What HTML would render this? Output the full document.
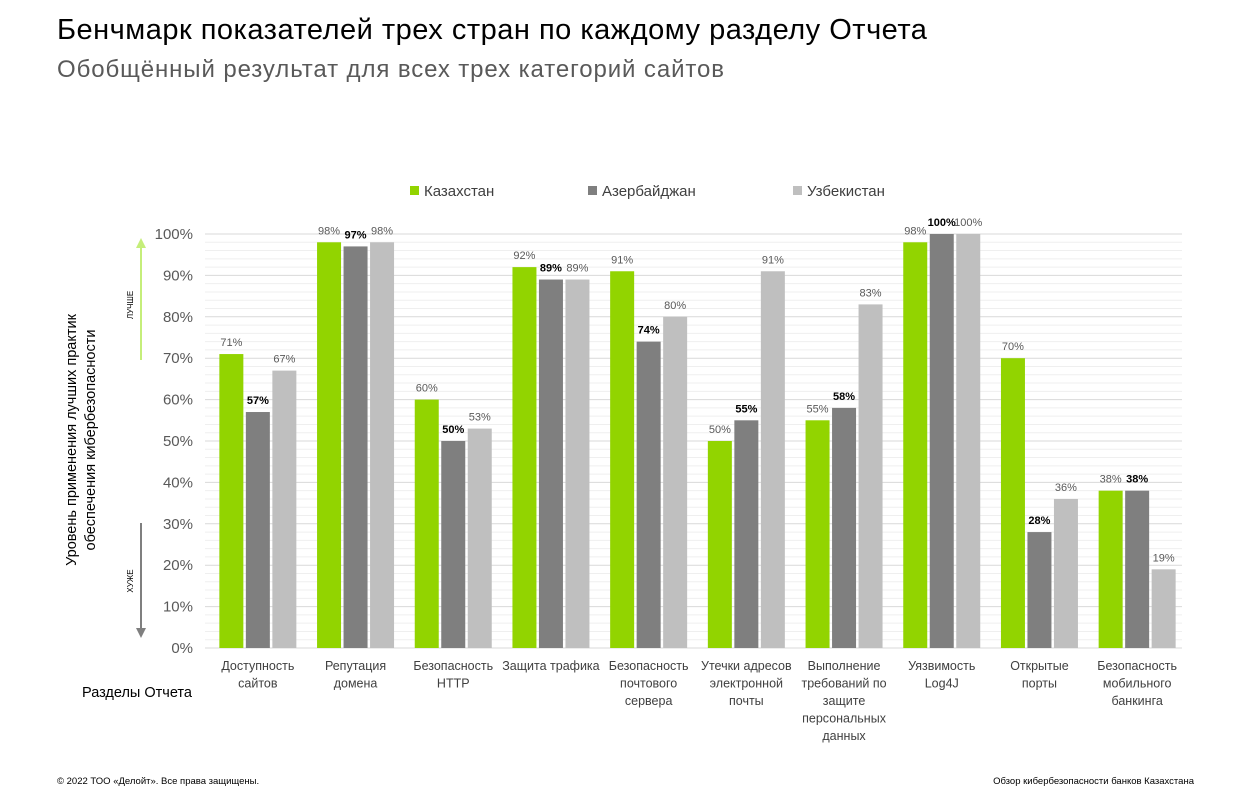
<!DOCTYPE html>
<html><head><meta charset="utf-8">
<style>
body{margin:0;width:1250px;height:794px;background:#fff;font-family:"Liberation Sans","DejaVu Sans",sans-serif;overflow:hidden;position:relative}
.t{position:absolute;white-space:nowrap}
</style></head><body>
<div class="t" style="left:57px;top:14px;font-size:29px;letter-spacing:0.5px;color:#000">Бенчмарк показателей трех стран по каждому разделу Отчета</div>
<div class="t" style="left:57px;top:56px;font-size:24px;letter-spacing:0.9px;color:#595959">Обобщённый результат для всех трех категорий сайтов</div>
<div class="t" style="left:57px;top:776px;font-size:9.5px;color:#000">© 2022 ТОО «Делойт». Все права защищены.</div>
<div class="t" style="right:56px;top:776px;font-size:9.5px;color:#000">Обзор кибербезопасности банков Казахстана</div>
<svg id="chart" width="1250" height="794" style="position:absolute;left:0;top:0"></svg>
<script>
const categories=[["Доступность","сайтов"],["Репутация","домена"],["Безопасность","HTTP"],["Защита трафика"],["Безопасность","почтового","сервера"],["Утечки адресов","электронной","почты"],["Выполнение","требований по","защите","персональных","данных"],["Уязвимость","Log4J"],["Открытые","порты"],["Безопасность","мобильного","банкинга"]];
const kazakhstan=[71,98,60,92,91,50,55,98,70,38];
const azerbaijan=[57,97,50,89,74,55,58,100,28,38];
const uzbekistan=[67,98,53,89,80,91,83,100,36,19];
const seriesNames=["Казахстан","Азербайджан","Узбекистан"];
const yTicks=[0,10,20,30,40,50,60,70,80,90,100];
const colors=["#92d400","#7f7f7f","#bfbfbf"];
const NS="http://www.w3.org/2000/svg";
const svg=document.getElementById('chart');
function mk(tag,attrs,parent){const e=document.createElementNS(NS,tag);for(const k in attrs)e.setAttribute(k,attrs[k]);(parent||svg).appendChild(e);return e;}
const x0=205,x1=1182,yBase=648,yTop=234;
function y(v){return yBase-(yBase-yTop)*v/100;}
const step=(x1-x0)/categories.length;
function cx(i){return x0+step*(i+0.5)+4;}
for(let v=0;v<=100;v+=2){const l=mk('line',{x1:x0,x2:x1,y1:y(v),y2:y(v),stroke:v%10==0?'#d9d9d9':'#efefef','stroke-width':1});

}
yTicks.forEach(v=>{const t=mk('text',{x:193,y:y(v)+5,'text-anchor':'end','font-size':15,fill:'#595959'});t.textContent=v+'%';

});
const all=[kazakhstan,azerbaijan,uzbekistan];
const bw=24,gap=2.5;
categories.forEach((c,i)=>{
 all.forEach((s,k)=>{
  const bx=cx(i)+(k-1)*(bw+gap)-bw/2;
  const r=mk('rect',{x:bx,y:y(s[i]),width:bw,height:yBase-y(s[i]),fill:colors[k]});
  
  
  const t=mk('text',{x:bx+bw/2,y:y(s[i])-8,'text-anchor':'middle','font-size':11,fill:k==1?'#000':'#595959','font-weight':k==1?'bold':'normal'});
  t.textContent=s[i]+'%';
  
  
 });
 c.forEach((ln,j)=>{const t=mk('text',{x:cx(i),y:670+j*17.5,'text-anchor':'middle','font-size':12.5,fill:'#404040'});t.textContent=ln;
  
  });
});
const lx=[410,588,793];
seriesNames.forEach((n,k)=>{
 const r=mk('rect',{x:lx[k],y:186,width:9,height:9,fill:colors[k]});
 
 
 const t=mk('text',{x:lx[k]+14,y:196,'font-size':15,fill:'#404040'});t.textContent=n;
 
 
});
const at=mk('text',{transform:'translate(76,440) rotate(-90)','text-anchor':'middle','font-size':14.5,fill:'#000'});


const s1=mk('tspan',{x:0,dy:0},at);s1.textContent='Уровень применения лучших практик';
const s2=mk('tspan',{x:0,dy:19},at);s2.textContent='обеспечения кибербезопасности';
const a1=mk('line',{x1:141,x2:141,y1:360,y2:246,stroke:'#c5ee7a','stroke-width':2});

const h1=mk('polygon',{points:'136,248 146,248 141,238',fill:'#c5ee7a'});

const a2=mk('line',{x1:141,x2:141,y1:523,y2:630,stroke:'#7f7f7f','stroke-width':2});

const h2=mk('polygon',{points:'136,628 146,628 141,638',fill:'#7f7f7f'});

const b=mk('text',{transform:'translate(133,305) rotate(-90)','text-anchor':'middle','font-size':8,fill:'#000'});b.textContent='ЛУЧШЕ';

const w=mk('text',{transform:'translate(133,581) rotate(-90)','text-anchor':'middle','font-size':8,fill:'#000'});w.textContent='ХУЖЕ';

const xt=mk('text',{x:82,y:697,'font-size':14.5,fill:'#000'});xt.textContent='Разделы Отчета';

</script>
</body></html>
